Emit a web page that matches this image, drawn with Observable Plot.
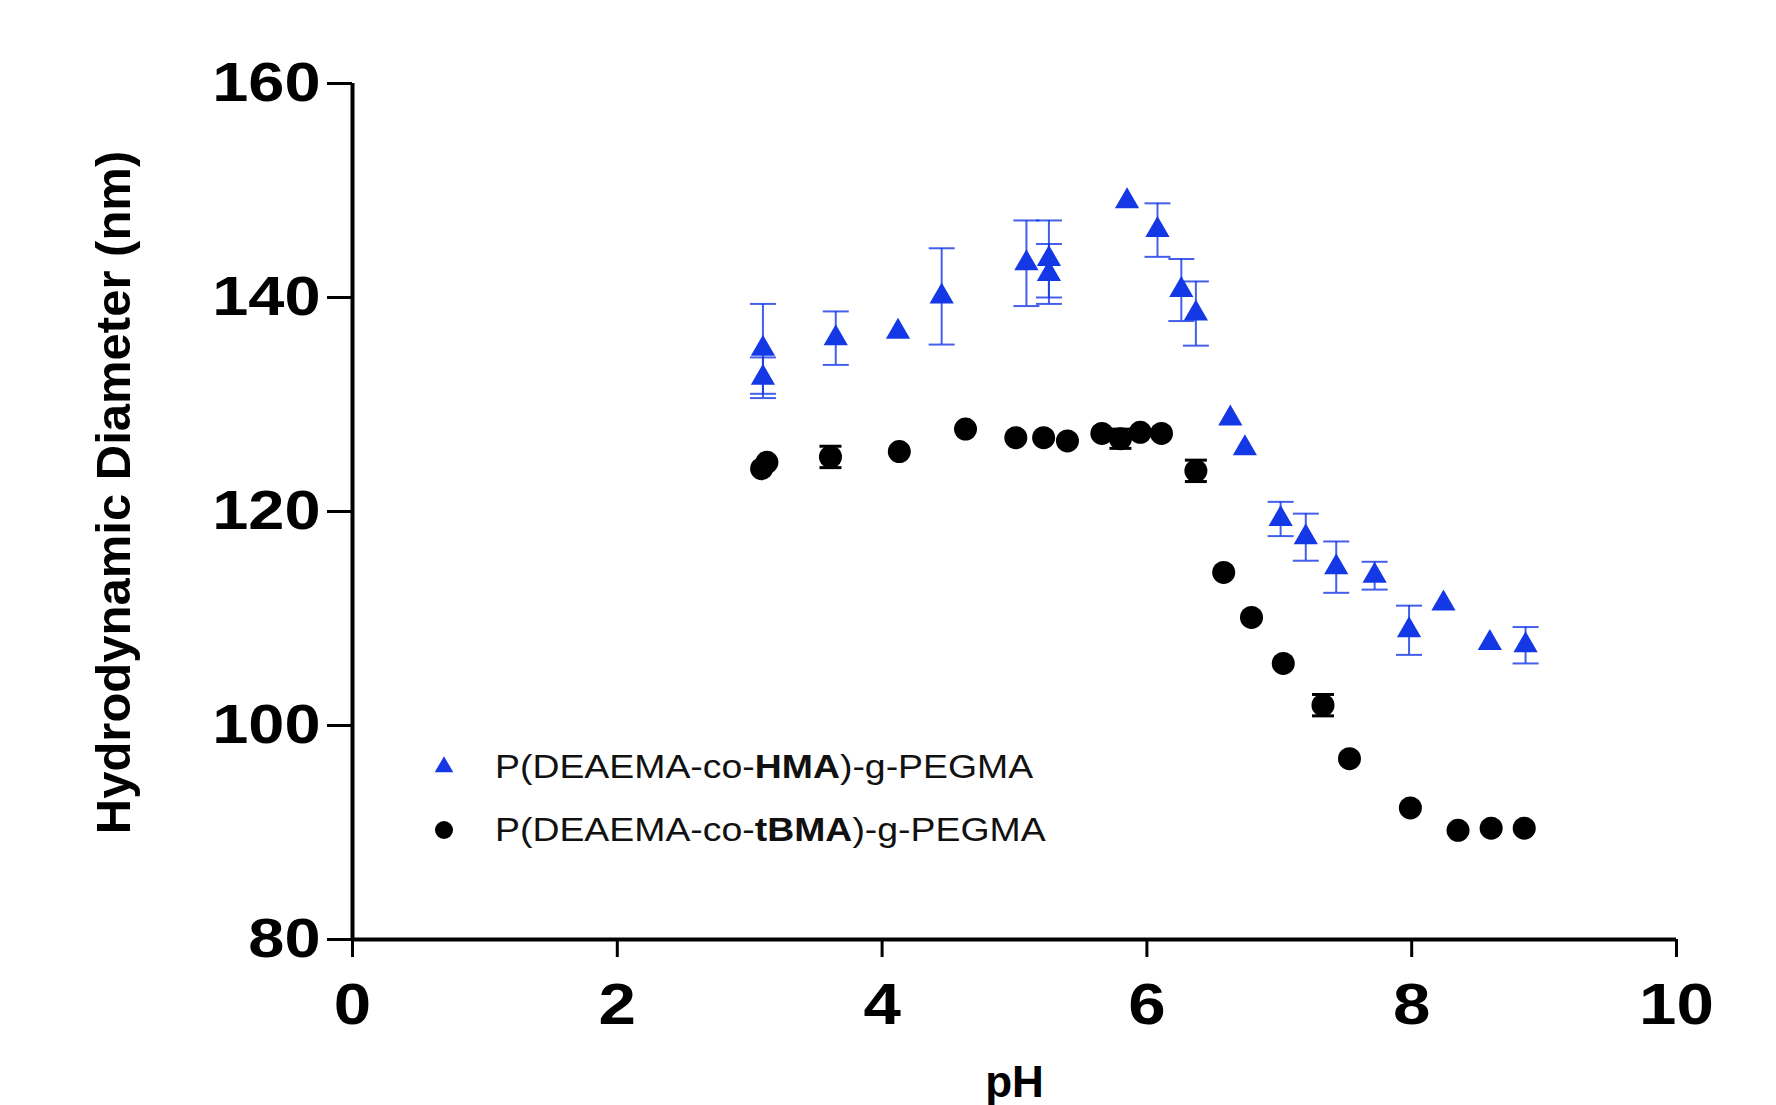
<!DOCTYPE html>
<html><head><meta charset="utf-8">
<script src="https://cdn.jsdelivr.net/npm/d3@7"></script>
<script src="https://cdn.jsdelivr.net/npm/@observablehq/plot@0.6"></script>
<style>
body{margin:0;background:#fff;}
#wrap{position:relative;width:1776px;height:1105px;font-family:"Liberation Sans",Arial,sans-serif;color:#000;}
.legend{position:absolute;left:429px;top:735px;font-size:34px;color:#111;}
.legend .row{display:flex;align-items:center;height:63px;}
.legend .sw{width:30px;height:30px;margin-right:36px;flex:none;}
.legend span{display:inline-block;transform:scaleX(1.1);transform-origin:0 50%;white-space:nowrap;}
</style>
</head><body>
<div id="wrap"></div>
<script>
// P(DEAEMA-co-HMA)-g-PEGMA
const hmaPH  = [3.10, 3.10, 3.65, 4.12, 4.45, 5.09, 5.26, 5.26, 5.85, 6.08, 6.26, 6.37, 6.63, 6.74, 7.01, 7.20, 7.43, 7.72, 7.98, 8.24, 8.59, 8.86];
const hmaD   = [135.2, 132.5, 136.2, 136.8, 140.1, 143.2, 143.6, 142.2, 149.0, 146.3, 140.7, 138.5, 128.7, 125.9, 119.3, 117.6, 114.8, 114.0, 108.9, 111.4, 107.7, 107.5];
const hmaErr = [4.2, 1.9, 2.5, 0, 4.5, 4.0, 3.6, 2.8, 0, 2.5, 2.9, 3.0, 0, 0, 1.6, 2.2, 2.4, 1.3, 2.3, 0, 0, 1.7];
// P(DEAEMA-co-tBMA)-g-PEGMA
const tbPH  = [3.09, 3.13, 3.61, 4.13, 4.63, 5.01, 5.22, 5.40, 5.66, 5.80, 5.95, 6.11, 6.37, 6.58, 6.79, 7.03, 7.33, 7.53, 7.99, 8.35, 8.60, 8.85];
const tbD   = [124.0, 124.6, 125.1, 125.6, 127.7, 126.9, 126.9, 126.6, 127.3, 126.8, 127.4, 127.3, 123.8, 114.3, 110.1, 105.8, 101.9, 96.9, 92.3, 90.2, 90.4, 90.4];
const tbErr = [0, 0, 1.0, 0, 0, 0, 0, 0, 0, 0.9, 0, 0, 1.0, 0, 0, 0, 1.0, 0, 0, 0, 0, 0];

const xTicks = [0, 2, 4, 6, 8, 10];
const yTicks = [80, 100, 120, 140, 160];
const xLabel = "pH";
const yLabel = "Hydrodynamic Diameter (nm)";
const seriesNames = ["P(DEAEMA-co-HMA)-g-PEGMA", "P(DEAEMA-co-tBMA)-g-PEGMA"];

const blue = "#1538e6";
const hma = hmaPH.map((x, i) => ({ph: x, d: hmaD[i], e: hmaErr[i]}));
const tb = tbPH.map((x, i) => ({ph: x, d: tbD[i], e: tbErr[i]}));
const hmaE = hma.filter(d => d.e > 0);
const tbE = tb.filter(d => d.e > 0);

const cap = {draw(ctx, size) { const w = Math.sqrt(size / Math.PI); ctx.moveTo(-w, 0); ctx.lineTo(w, 0); }};

const font = '"Liberation Sans", Arial, sans-serif';
const chart = Plot.plot({
  width: 1776, height: 1105,
  marginLeft: 352, marginRight: 100, marginTop: 83, marginBottom: 166,
  style: {background: "#fff", color: "#000", fontFamily: font, overflow: "visible"},
  x: {domain: [0, 10]},
  y: {domain: [80, 160]},
  marks: [
    Plot.ruleX(hmaE, {x: "ph", y1: d => d.d - d.e, y2: d => d.d + d.e, stroke: blue, strokeWidth: 2, strokeOpacity: 0.8}),
    Plot.dot(hmaE, {x: "ph", y: d => d.d + d.e, symbol: cap, r: 13, stroke: blue, strokeWidth: 2, strokeOpacity: 0.8}),
    Plot.dot(hmaE, {x: "ph", y: d => d.d - d.e, symbol: cap, r: 13, stroke: blue, strokeWidth: 2, strokeOpacity: 0.8}),
    Plot.ruleX(tbE, {x: "ph", y1: d => d.d - d.e, y2: d => d.d + d.e, stroke: "#000", strokeWidth: 3}),
    Plot.dot(tbE, {x: "ph", y: d => d.d + d.e, symbol: cap, r: 11, stroke: "#000", strokeWidth: 3}),
    Plot.dot(tbE, {x: "ph", y: d => d.d - d.e, symbol: cap, r: 11, stroke: "#000", strokeWidth: 3}),
    Plot.dot(hma, {x: "ph", y: "d", symbol: "triangle", r: 9, fill: blue, stroke: "none"}),
    Plot.dot(tb, {x: "ph", y: "d", r: 11.5, fill: "#000", stroke: "none"}),
    Plot.axisY({ticks: yTicks, tickSize: 25, tickPadding: 7, fontSize: 55, fontWeight: "bold", strokeWidth: 3, label: null}),
    Plot.axisX({ticks: xTicks, tickSize: 18, tickPadding: 26, fontSize: 57, fontWeight: "bold", strokeWidth: 3, label: null}),
    Plot.ruleX([0], {strokeWidth: 4}),
    Plot.ruleY([80], {strokeWidth: 4}),
    Plot.text([yLabel], {text: d => d, frameAnchor: "left", dx: -238, dy: -19, rotate: -90, fontSize: 49, fontWeight: "bold", textAnchor: "middle", lineAnchor: "middle"}),
    Plot.text([xLabel], {text: d => d, frameAnchor: "bottom", dy: 143, fontSize: 44, fontWeight: "bold", textAnchor: "middle", lineAnchor: "middle"})
  ]
});
const wrap = document.getElementById("wrap");
wrap.appendChild(chart);

// widen the bold tick labels horizontally like the reference typeface
const sel = d3.select(chart);
sel.selectAll('g[aria-label="y-axis tick label"] text, g[aria-label="x-axis tick label"] text')
  .attr("transform", function() { return (this.getAttribute("transform") || "") + " scale(1.18,1)"; });

// legend (inside plot area)
const legend = document.createElement("div");
legend.className = "legend";
const parts = [["P(DEAEMA-co-", "HMA", ")-g-PEGMA"], ["P(DEAEMA-co-", "tBMA", ")-g-PEGMA"]];
const swatches = [
  `<svg class="sw" viewBox="-15 -15 30 30"><path d="${d3.symbol(d3.symbolTriangle, 150)()}" fill="${blue}"/></svg>`,
  `<svg class="sw" viewBox="-15 -15 30 30"><circle r="9" fill="#000"/></svg>`
];
parts.forEach((p, i) => {
  const row = document.createElement("div");
  row.className = "row";
  row.setAttribute("title", seriesNames[i]);
  row.innerHTML = swatches[i] + `<span>${p[0]}<b>${p[1]}</b>${p[2]}</span>`;
  legend.appendChild(row);
});
wrap.appendChild(legend);
</script>
</body></html>
